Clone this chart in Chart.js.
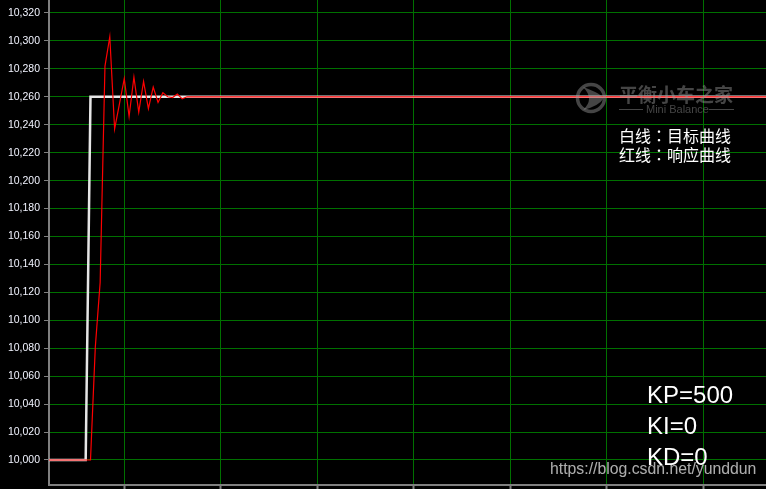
<!DOCTYPE html>
<html>
<head>
<meta charset="utf-8">
<script src="https://cdn.jsdelivr.net/npm/chart.js@4/dist/chart.umd.min.js"></script>
<style>
  html, body { margin: 0; padding: 0; background: #000; overflow: hidden; }
  #wrap { width: 766px; height: 489px; }
</style>
</head>
<body>
<div id="wrap"><canvas id="c" width="766" height="489"></canvas></div>
<script>
// ---- data ----
const xTicks = [0, 20, 40, 60, 80, 100, 120];
const yTicks = [10000, 10020, 10040, 10060, 10080, 10100, 10120, 10140, 10160,
                10180, 10200, 10220, 10240, 10260, 10280, 10300, 10320];

// target (white) curve: sample index / value
const targetX = [-16, -8, -7, 133];
const targetY = [10000, 10000, 10260, 10260];

// response (red) curve: sample index / value
const respX = [-16, -7, -6, -5, -4, -3, -2, -1, 0, 1, 2, 3, 4, 5, 6, 7, 8, 9, 10, 11, 12, 13, 133];
const respY = [10000, 10000, 10081, 10127, 10282, 10303, 10237, 10255, 10273, 10246, 10274, 10249,
               10271, 10251.5, 10267, 10256, 10263, 10260, 10259.5, 10262, 10258.5, 10260, 10260];

const noteLines = ['白线：目标曲线', '红线：响应曲线'];
const paramLines = ['KP=500', 'KI=0', 'KD=0'];
const urlText = 'https://blog.csdn.net/yunddun';
const wmTitle = '平衡小车之家';
const wmSub = 'Mini Balance';

const toPts = (xs, ys) => xs.map((x, i) => ({ x: x, y: ys[i] }));

const bgPlugin = {
  id: 'bg',
  beforeDraw(chart) {
    const ctx = chart.ctx;
    ctx.save();
    ctx.fillStyle = '#000';
    ctx.fillRect(0, 0, chart.width, chart.height);
    ctx.restore();
  }
};

const overlayPlugin = {
  id: 'overlay',
  afterDraw(chart) {
    const ctx = chart.ctx;
    ctx.save();
    // watermark logo
    ctx.globalAlpha = 0.45;
    ctx.strokeStyle = '#9a9a9a';
    ctx.fillStyle = '#9a9a9a';
    ctx.lineWidth = 3.5;
    ctx.beginPath();
    ctx.arc(591, 98, 13.5, 0, Math.PI * 2);
    ctx.stroke();
    ctx.beginPath();
    ctx.moveTo(583, 87);
    ctx.quadraticCurveTo(603, 94, 603, 99);
    ctx.quadraticCurveTo(599, 106, 583, 110);
    ctx.quadraticCurveTo(595, 99, 583, 87);
    ctx.fill();
    ctx.font = 'bold 19px "Noto Sans CJK SC"';
    ctx.textBaseline = 'alphabetic';
    ctx.textAlign = 'left';
    ctx.fillText(wmTitle, 619, 102);
    ctx.font = '11px "Liberation Sans", Arial';
    ctx.fillText(wmSub, 646, 113);
    ctx.lineWidth = 1;
    ctx.beginPath();
    ctx.moveTo(619, 109.5); ctx.lineTo(643, 109.5);
    ctx.moveTo(709, 109.5); ctx.lineTo(734, 109.5);
    ctx.stroke();
    ctx.globalAlpha = 1;

    // legend notes
    ctx.fillStyle = '#ffffff';
    ctx.font = '16px "Noto Sans CJK TC"';
    ctx.textBaseline = 'middle';
    ctx.fillText(noteLines[0], 619, 136);
    ctx.fillText(noteLines[1], 619, 155);

    // parameters
    ctx.font = '24px "Liberation Sans", Arial';
    ctx.textBaseline = 'alphabetic';
    ctx.fillText(paramLines[0], 647, 403);
    ctx.fillText(paramLines[1], 647, 434);
    ctx.fillText(paramLines[2], 647, 465);

    // url watermark
    ctx.fillStyle = 'rgba(255,255,255,0.68)';
    ctx.font = '15.8px "Liberation Sans", Arial';
    ctx.fillText(urlText, 550, 474);
    ctx.restore();
  }
};

const gridGreen = 'rgb(0,112,0)';
const axisGray = '#808080';

new Chart(document.getElementById('c'), {
  type: 'line',
  data: {
    datasets: [
      {
        label: 'response',
        data: toPts(respX, respY),
        borderColor: 'rgb(255,0,0)',
        borderWidth: 1.2,
        pointRadius: 0,
        tension: 0,
        order: 0
      },
      {
        label: 'target',
        data: toPts(targetX, targetY),
        borderColor: '#e6e6e6',
        borderWidth: 2.5,
        pointRadius: 0,
        tension: 0,
        order: 1
      }
    ]
  },
  options: {
    responsive: false,
    animation: false,
    events: [],
    layout: { padding: 0 },
    plugins: { legend: { display: false }, tooltip: { enabled: false } },
    scales: {
      x: {
        type: 'linear',
        min: -15.6,
        max: 133,
        afterBuildTicks(axis) { axis.ticks = xTicks.map(v => ({ value: v })); },
        afterFit(axis) { axis.height = 4; axis.paddingLeft = 0; axis.paddingRight = 0; },
        ticks: { display: false },
        grid: { color: gridGreen, lineWidth: 1, tickColor: axisGray, tickLength: 4, tickWidth: 2 },
        border: { color: axisGray, width: 2 }
      },
      y: {
        type: 'linear',
        min: 9982.1,
        max: 10329.3,
        afterBuildTicks(axis) { axis.ticks = yTicks.map(v => ({ value: v })); },
        afterFit(axis) { axis.width = 49; axis.paddingTop = 0; axis.paddingBottom = 0; },
        ticks: {
          color: '#f2f4ff',
          padding: 4,
          font: { family: '"Liberation Sans", Arial', size: 10.5 },
          callback: (v) => Number(v).toLocaleString('en-US')
        },
        grid: { color: gridGreen, lineWidth: 1, tickColor: axisGray, tickLength: 5 },
        border: { color: axisGray, width: 2 }
      }
    }
  },
  plugins: [bgPlugin, overlayPlugin]
});
</script>
</body>
</html>
